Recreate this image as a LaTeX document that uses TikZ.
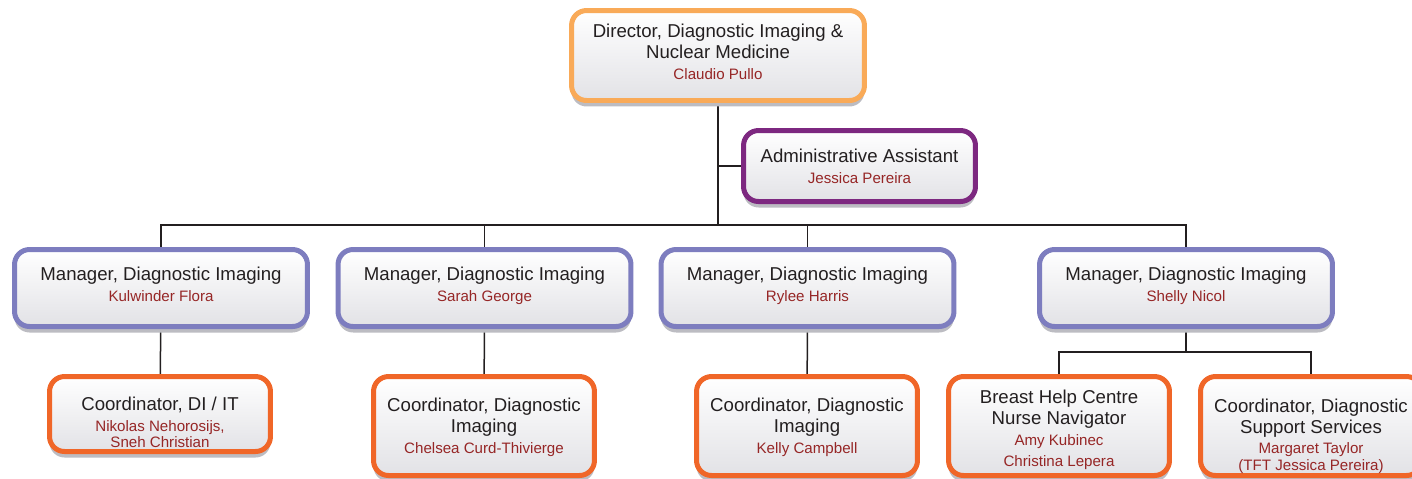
\documentclass[tikz,border=0pt]{standalone}
\usepackage{fontspec}
\setmainfont{Liberation Sans}
\usepackage{tikz}
\usetikzlibrary{shadows,backgrounds}
\definecolor{ink}{RGB}{35,31,32}
\definecolor{namered}{RGB}{150,38,38}
\definecolor{dirorange}{RGB}{249,170,88}
\definecolor{adminpurple}{RGB}{125,40,128}
\definecolor{mgrblue}{RGB}{125,125,191}
\definecolor{coordorange}{RGB}{240,102,40}
\definecolor{boxgray}{RGB}{226,226,230}
\definecolor{shadowgray}{RGB}{188,188,194}
\newcommand{\titlesize}{\fontsize{10.6}{11.9}\selectfont}
\newcommand{\staff}[1]{{\color{namered}\fontsize{8.6}{9.6}\selectfont #1}}
\newcommand{\lift}[2]{\raisebox{#1}[\height][\depth]{\begin{tabular}{@{}c@{}}#2\end{tabular}}}

\begin{document}
\begin{tikzpicture}[x=0.02cm,y=-0.02cm,
    orgbox/.style={rectangle,rounded corners=0.3cm,line width=0.1cm,
        top color=white,bottom color=boxgray,
        drop shadow={shadow xshift=0cm,shadow yshift=-0.12cm,fill=shadowgray,opacity=1},
        align=center,inner sep=0pt,text=ink,font=\titlesize},
    hv/.style={to path={-| (\tikztotarget)}}]
\useasboundingbox (0,0) rectangle (1412,478);

\begin{scope}[every node/.style={orgbox,draw=dirorange,minimum width=5.86cm,minimum height=1.8cm}]
    \node (dir) at (718,55.5) {\lift{0.6pt}{Director, Diagnostic Imaging \&\\Nuclear Medicine\\\staff{Claudio Pullo}}};
\end{scope}
\begin{scope}[every node/.style={orgbox,draw=adminpurple,minimum width=4.64cm,minimum height=1.42cm}]
    \node (admin) at (859.5,166) {\lift{-1.6pt}{Administrative Assistant\\\staff{Jessica Pereira}}};
\end{scope}
\begin{scope}[every node/.style={orgbox,draw=mgrblue,minimum width=5.86cm,minimum height=1.54cm}]
    \node (mgr1) at (161,288) {\lift{0.9pt}{Manager, Diagnostic Imaging\\\staff{Kulwinder Flora}}};
    \node (mgr2) at (484.5,288) {\lift{0.9pt}{Manager, Diagnostic Imaging\\\staff{Sarah George}}};
    \node (mgr3) at (807.5,288) {\lift{0.9pt}{Manager, Diagnostic Imaging\\\staff{Rylee Harris}}};
    \node (mgr4) at (1186,288) {\lift{0.9pt}{Manager, Diagnostic Imaging\\\staff{Shelly Nicol}}};
\end{scope}
\begin{scope}[every node/.style={orgbox,draw=coordorange,minimum width=4.42cm,minimum height=1.98cm}]
    \node[minimum height=1.5cm] (co1) at (160,414) {\lift{-6.2pt}{Coordinator, DI / IT\\\staff{Nikolas Nehorosijs,}\\[-2.3pt]\staff{Sneh Christian}}};
    \node (co2) at (484,426) {\lift{-1.4pt}{Coordinator, Diagnostic\\Imaging\\\staff{Chelsea Curd-Thivierge}}};
    \node (co3) at (807,426) {\lift{-1.4pt}{Coordinator, Diagnostic\\Imaging\\\staff{Kelly Campbell}}};
    \node (co4) at (1059,426) {\lift{-2.6pt}{Breast Help Centre\\Nurse Navigator\\\staff{Amy Kubinec}\\\staff{Christina Lepera}}};
    \node (co5) at (1311,426) {\lift{-6.4pt}{Coordinator, Diagnostic\\Support Services\\\staff{Margaret Taylor}\\[-2.3pt]\staff{(TFT Jessica Pereira)}}};
\end{scope}

\begin{scope}[on background layer,
              every edge/.style={draw=ink,line width=0.03cm}]
    \coordinate (bus) at (718,225);
    \coordinate (split) at (1186,352);
    \path (dir) edge (bus);
    \path (admin) edge[hv] (dir);
    \path (bus) edge[hv] (mgr1);
    \path (bus) edge[hv] (mgr2);
    \path (bus) edge[hv] (mgr3);
    \path (bus) edge[hv] (mgr4);
    \path (mgr1) edge (co1);
    \path (mgr2) edge (co2);
    \path (mgr3) edge (co3);
    \path (mgr4) edge (split);
    \path (split) edge[hv] (co4);
    \path (split) edge[hv] (co5);
\end{scope}
\end{tikzpicture}
\end{document}
